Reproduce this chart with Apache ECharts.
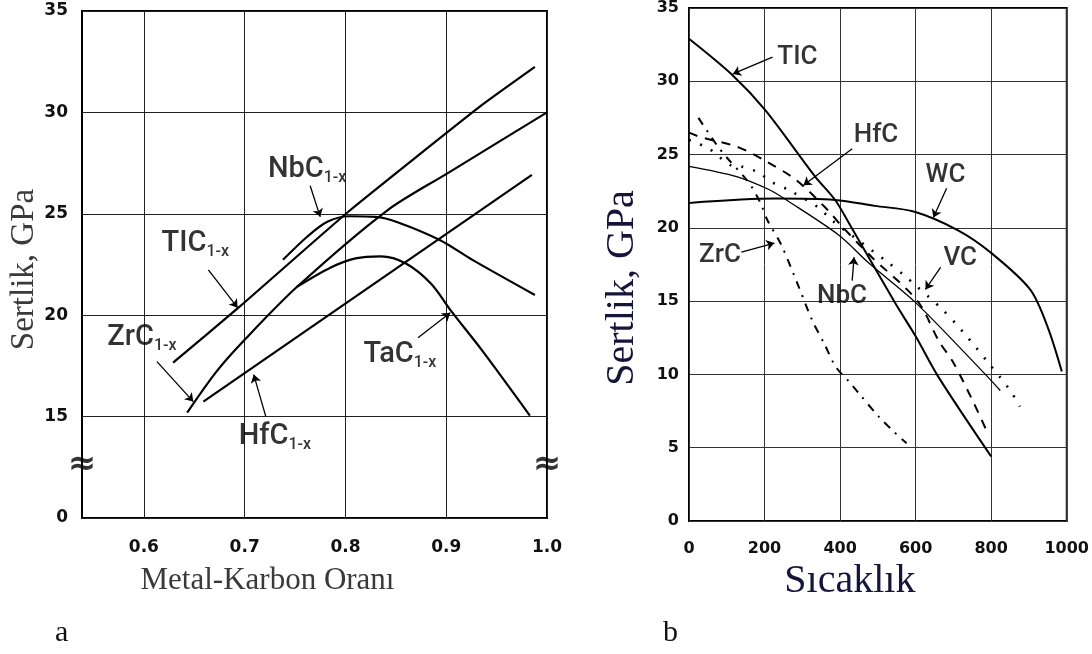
<!DOCTYPE html>
<html>
<head>
<meta charset="utf-8">
<script src="https://cdn.jsdelivr.net/npm/echarts@6/dist/echarts.min.js"></script>
<style>
  html, body { margin: 0; padding: 0; background: #fff; }
  #chart { width: 1092px; height: 654px; }
</style>
</head>
<body>
<div id="chart"></div>
<script>
// ---- panel a: hardness vs metal-carbon ratio ----
const ratioMin = 0.5386;
const ratioTicks = [0.6, 0.7, 0.8, 0.9, 1.0];
const tic1x = [[0.629, 17.66], [0.695, 20.42], [0.804, 25.15], [0.933, 30.27], [0.988, 32.24]];
const zrc1x = [[0.643, 15.2], [0.672, 17.22], [0.700, 18.79], [0.752, 21.4], [0.841, 25.15], [0.902, 27.02], [1.0, 30.0]];
const hfc1x = [[0.659, 15.74], [0.985, 26.92]];
const nbc1x = [[0.738, 22.73], [0.762, 23.87], [0.782, 24.61], [0.804, 24.88], [0.830, 24.85], [0.851, 24.6], [0.894, 23.7], [0.926, 22.73], [0.988, 21.0]];
const tac1x = [[0.752, 21.4], [0.785, 22.34], [0.810, 22.8], [0.835, 22.9], [0.860, 22.55], [0.885, 21.55], [0.905, 20.2], [0.935, 18.3], [0.983, 15.05]];
const leftLabels = [
  { name: 'NbC', value: [0.762, 27.17] },
  { name: 'TIC', value: [0.651, 23.52] },
  { name: 'ZrC', value: [0.598, 18.89] },
  { name: 'HfC', value: [0.730, 14.01] },
  { name: 'TaC', value: [0.854, 18.05] }
];
const leftArrows = [
  [[0.765, 26.38], [0.775, 24.85]],
  [[0.664, 22.24], [0.693, 20.37]],
  [[0.613, 17.71], [0.649, 15.74]],
  [[0.721, 15.0], [0.709, 17.07]],
  [[0.872, 18.89], [0.904, 20.12]]
];
const breakMarks = [[ratioMin, 12.6], [1.0, 12.6]];

// ---- panel b: hardness vs temperature ----
const tiC = [[0, 32.9], [116, 30.4], [203, 28.0], [334, 23.5], [387, 21.9], [424, 20.3], [545, 14.9], [600, 12.6], [661, 9.8], [800, 4.4]];
const wC = [[0, 21.7], [230, 22.0], [387, 21.9], [492, 21.5], [597, 21.1], [711, 19.85], [797, 18.35], [903, 15.8], [950, 13.2], [987, 10.2]];
const nbC = [[0, 24.2], [126, 23.5], [213, 22.6], [258, 21.9], [397, 19.5], [476, 17.6], [600, 14.9], [792, 9.8], [824, 8.9]];
const hfC = [[0, 26.5], [30, 26.2], [120, 25.6], [165, 25.1], [200, 24.6], [282, 23.3], [368, 21.2], [405, 20.1], [484, 18.0], [577, 15.8], [616, 14.6], [661, 12.3], [700, 10.8], [753, 8.1], [787, 6.2]];
const vC = [[0, 26.0], [53, 25.4], [108, 24.3], [137, 24.2], [182, 23.8], [221, 23.1], [263, 22.6], [342, 21.4], [379, 20.5], [529, 17.6], [568, 16.8], [603, 16.0], [634, 15.3], [668, 14.5], [705, 13.5], [732, 12.7], [761, 11.8], [792, 10.8], [824, 9.8], [853, 8.8], [876, 7.8]];
const zrC = [[25, 27.5], [75, 25.6], [100, 24.8], [158, 23.1], [189, 21.7], [208, 20.5], [245, 18.8], [284, 16.4], [326, 13.7], [358, 12.1], [389, 10.5], [424, 9.5], [450, 8.7], [503, 7.1], [542, 6.1], [576, 5.3]];
const rightLabels = [
  { name: 'TIC', value: [287, 31.65] },
  { name: 'HfC', value: [495, 26.3] },
  { name: 'WC', value: [679, 23.6] },
  { name: 'VC', value: [718, 17.9] },
  { name: 'ZrC', value: [82, 18.1] },
  { name: 'NbC', value: [405, 15.35] }
];
const rightArrows = [
  [[221, 31.65], [116, 30.5]],
  [[432, 25.4], [303, 22.9]],
  [[682, 22.7], [647, 20.7]],
  [[666, 17.3], [626, 15.8]],
  [[139, 18.35], [226, 18.96]],
  [[432, 16.4], [437, 18.0]]
];

const tickFont = { fontFamily: 'DejaVu Sans', fontWeight: 'bold', color: '#111' };
const serif = 'Liberation Serif';
const annFont = 'Roboto';

function curve(data, xi, width, type, smooth) {
  return {
    type: 'line', xAxisIndex: xi, yAxisIndex: xi, data: data,
    showSymbol: false, smooth: smooth,
    lineStyle: { color: '#000', width: width, type: type || 'solid' },
    z: 3
  };
}
function arrows(list, xi) {
  return {
    type: 'lines', coordinateSystem: 'cartesian2d', xAxisIndex: xi, yAxisIndex: xi,
    symbol: ['none', 'arrow'], symbolSize: 8,
    lineStyle: { color: '#000', width: 1.3, opacity: 1 },
    data: list.map(c => ({ coords: c })), z: 4
  };
}
function labels(list, xi, big, sub) {
  return {
    type: 'scatter', xAxisIndex: xi, yAxisIndex: xi, symbolSize: 1,
    itemStyle: { color: 'rgba(0,0,0,0)' }, data: list, z: 5,
    label: {
      show: true, position: 'inside',
      formatter: p => sub ? '{m|' + p.name + '}{s|1-x}' : '{m|' + p.name + '}',
      rich: {
        m: { fontFamily: annFont, fontWeight: 500, fontSize: big, color: '#000', lineHeight: big + 4 },
        s: { fontFamily: annFont, fontWeight: 500, fontSize: Math.round(big * 0.55), color: '#000', verticalAlign: 'bottom', lineHeight: big * 0.55 }
      }
    }
  };
}

const chart = echarts.init(document.getElementById('chart'));
chart.setOption({
  animation: false,
  backgroundColor: '#fff',
  grid: [
    { left: 82, top: 11, width: 465, height: 507, show: true, borderColor: '#000', borderWidth: 2 },
    { left: 689, top: 8, width: 380, height: 513, show: true, borderColor: '#000', borderWidth: 2 }
  ],
  xAxis: [
    {
      type: 'value', gridIndex: 0, min: ratioMin, max: 1.0,
      axisLine: { show: false },
      axisTick: { show: false, customValues: ratioTicks },
      axisLabel: Object.assign({ customValues: ratioTicks, fontSize: 17, margin: 21, formatter: v => v.toFixed(1) }, tickFont),
      splitLine: { show: true, lineStyle: { color: '#222', width: 1 } },
      name: 'Metal-Karbon Oranı', nameLocation: 'middle', nameGap: 47,
      nameTextStyle: { fontFamily: serif, fontSize: 31, color: '#3a3a3a', padding: [0, 94, 0, 0] }
    },
    {
      type: 'value', gridIndex: 1, min: 0, max: 1000, interval: 200,
      axisLine: { show: false }, axisTick: { show: false },
      axisLabel: Object.assign({ fontSize: 16, margin: 20, formatter: v => String(v) }, tickFont),
      splitLine: { show: true, lineStyle: { color: '#333', width: 1 } },
      name: 'Sıcaklık', nameLocation: 'middle', nameGap: 39,
      nameTextStyle: { fontFamily: serif, fontSize: 40, color: '#15153a', padding: [0, 56, 0, 0] }
    }
  ],
  yAxis: [
    {
      type: 'value', gridIndex: 0, min: 10, max: 35, interval: 5,
      axisLine: { show: false }, axisTick: { show: false },
      axisLabel: Object.assign({ fontSize: 17, margin: 14, formatter: v => (v === 10 ? '0' : String(v)) }, tickFont),
      splitLine: { show: true, lineStyle: { color: '#222', width: 1 } },
      name: 'Sertlik, GPa', nameLocation: 'middle', nameGap: 34,
      nameTextStyle: { fontFamily: serif, fontSize: 33, color: '#3a3a3a', padding: [0, 10, 0, 0] }
    },
    {
      type: 'value', gridIndex: 1, min: 0, max: 35, interval: 5,
      axisLine: { show: false }, axisTick: { show: false },
      axisLabel: Object.assign({ fontSize: 16, margin: 10 }, tickFont),
      splitLine: { show: true, lineStyle: { color: '#333', width: 1 } },
      name: 'Sertlik, GPa', nameLocation: 'middle', nameGap: 47,
      nameTextStyle: { fontFamily: serif, fontSize: 40, color: '#15153a', padding: [0, 47, 0, 0] }
    }
  ],
  graphic: [
    { type: 'text', left: 55, top: 618, style: { text: 'a', font: '30px "Liberation Serif"', fill: '#111' } },
    { type: 'text', left: 663, top: 618, style: { text: 'b', font: '30px "Liberation Serif"', fill: '#111' } }
  ],
  series: [
    curve(tic1x, 0, 2.2, 'solid', 0.15),
    curve(zrc1x, 0, 2.2, 'solid', 0.3),
    curve(hfc1x, 0, 2.2, 'solid', 0),
    curve(nbc1x, 0, 2.2, 'solid', 0.3),
    curve(tac1x, 0, 2.2, 'solid', 0.3),
    arrows(leftArrows, 0),
    labels(leftLabels, 0, 29, true),
    {
      type: 'scatter', xAxisIndex: 0, yAxisIndex: 0, symbolSize: 1, data: breakMarks,
      itemStyle: { color: 'rgba(0,0,0,0)' }, z: 6,
      label: { show: true, position: 'inside', formatter: '≈', fontSize: 34, fontWeight: 'bold', color: '#000', fontFamily: 'DejaVu Sans' }
    },
    curve(tiC, 1, 2, 'solid', 0.3),
    curve(wC, 1, 2, 'solid', 0.3),
    curve(nbC, 1, 1.3, 'solid', 0.3),
    curve(hfC, 1, 2, [9, 8], 0.3),
    curve(vC, 1, 2.6, [2, 10], 0.3),
    curve(zrC, 1, 2, [8, 7, 2, 7], 0.3),
    arrows(rightArrows, 1),
    labels(rightLabels, 1, 26, false)
  ]
});
</script>
</body>
</html>
